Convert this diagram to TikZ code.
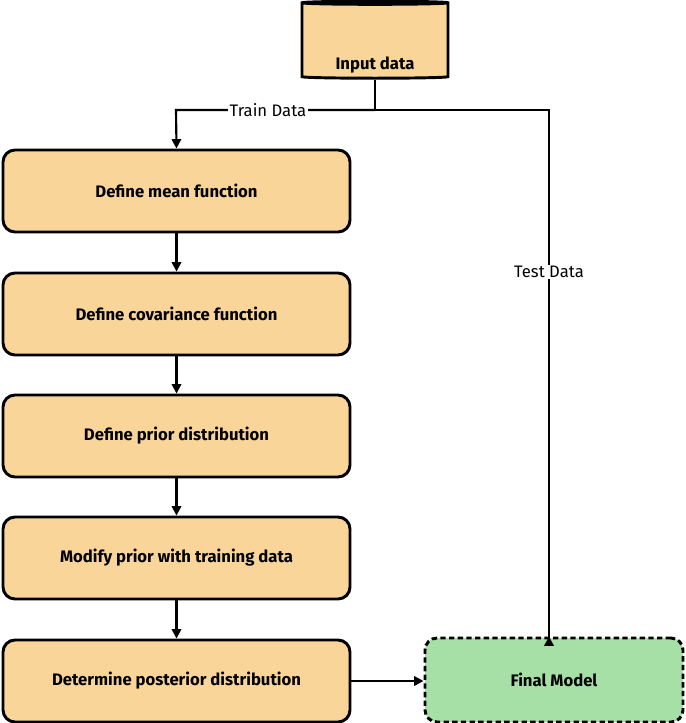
\documentclass[tikz,border=0pt]{standalone}
\usepackage{fontspec}
\setmainfont{Fira Sans}
\usetikzlibrary{shapes.geometric,arrows.meta}
\definecolor{boxfill}{HTML}{FAD59A}
\definecolor{greenfill}{HTML}{A6E0A6}
\begin{document}
\begin{tikzpicture}[x=0.75pt,y=-0.75pt,
  box/.style={draw=black,line width=2.2pt,rounded corners=9pt,fill=boxfill,minimum width=347*0.75pt,minimum height=82*0.75pt,font=\fontsize{12.5}{14}\selectfont\bfseries},
  arr/.style={line width=1.6pt,-{Triangle[length=7pt,width=7pt]}},
  lab/.style={fill=white,inner sep=1pt,font=\fontsize{12.5}{14}\selectfont}]
\useasboundingbox (0,0) rectangle (685,723);
\node[cylinder,shape border rotate=90,aspect=0.35,draw,line width=2.2pt,fill=boxfill,minimum width=146*0.75pt,minimum height=77*0.75pt,font=\fontsize{12.5}{14}\selectfont\bfseries] (in) at (375,41.5) {};
\node[font=\fontsize{12.5}{14}\selectfont\bfseries] (inl) at (375,65) {Input data};
\node[box] (b1) at (176.5,191) {Define mean function};
\node[box] (b2) at (176.5,314) {Define covariance function};
\node[box] (b3) at (176.5,436) {Define prior distribution};
\node[box] (b4) at (176.5,558) {Modify prior with training data};
\node[box] (b5) at (176.5,681) {Determine posterior distribution};
\node[draw=black,line width=2.2pt,dash pattern=on 4pt off 2.5pt,rounded corners=9pt,fill=greenfill,minimum width=258*0.75pt,minimum height=84*0.75pt,font=\fontsize{12.5}{14}\selectfont\bfseries] (fm) at (554,680) {Final Model};
\coordinate (j) at (375,110);
\draw[line width=1.6pt] (in.bottom) -- (j);
\draw[arr] (j) -- (176,110) -- (b1.north);
\draw[arr] (j) -- (549,110) -- (549,638) -- (fm.north -| 549,0);
\node[lab] (tr) at (268,110) {Train Data};
\node[lab] (te) at (549,272) {Test Data};
\draw[arr] (b1) -- (b2);
\draw[arr] (b2) -- (b3);
\draw[arr] (b3) -- (b4);
\draw[arr] (b4) -- (b5);
\draw[arr] (b5) -- (fm.west |- b5);
\end{tikzpicture}
\end{document}
